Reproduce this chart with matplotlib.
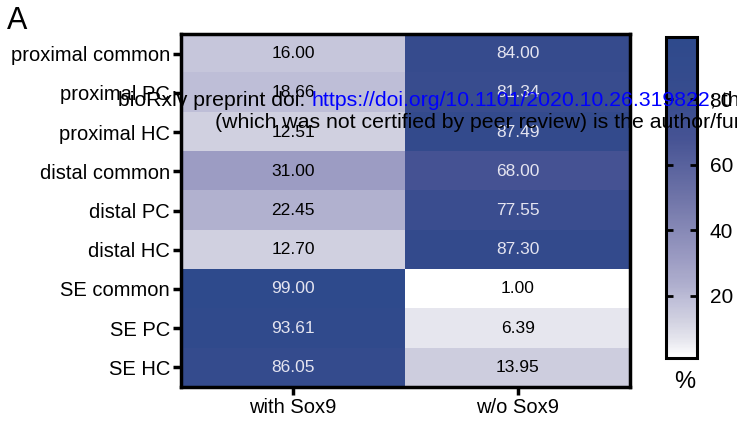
import numpy as np
import matplotlib
matplotlib.use("Agg")
import matplotlib.pyplot as plt
from matplotlib.colors import LinearSegmentedColormap

plt.rcParams['font.family'] = ['Liberation Sans', 'DejaVu Sans']

# Percent of cells with / without Sox9 per region
regions = ["proximal common", "proximal PC", "proximal HC",
           "distal common", "distal PC", "distal HC",
           "SE common", "SE PC", "SE HC"]
groups = ["with Sox9", "w/o Sox9"]
with_sox9 = [16.00, 18.66, 12.51, 31.00, 22.45, 12.70, 99.00, 93.61, 86.05]
without_sox9 = [84.00, 81.34, 87.49, 68.00, 77.55, 87.30, 1.00, 6.39, 13.95]
cbar_ticks = [20, 40, 60, 80]

data = np.column_stack([with_sox9, without_sox9])
vmin, vmax = 1, 99

# white -> lavender -> dark blue
cmap = LinearSegmentedColormap.from_list("sox9", [
    (0.000, "#ffffff"),
    (0.055, "#e6e6ee"),
    (0.120, "#d0d0e0"),
    (0.180, "#bfbfd8"),
    (0.220, "#b1b1cf"),
    (0.306, "#9c9cc3"),
    (0.500, "#6f74a8"),
    (0.684, "#465394"),
    (0.780, "#3b4e90"),
    (0.880, "#344b8d"),
    (1.000, "#2e4a8c"),
])

fig = plt.figure(figsize=(7.37, 4.25), dpi=100)
ax = fig.add_axes([0.2456, 0.0894, 0.609, 0.8306])
im = ax.imshow(data, cmap=cmap, vmin=vmin, vmax=vmax, aspect='auto',
               interpolation='nearest')

for i in range(data.shape[0]):
    for j in range(data.shape[1]):
        v = data[i, j]
        col = "#e4e4f0" if v > 50 else "black"
        ax.text(j, i, f"{v:.2f}", ha='center', va='center', fontsize=12.5, color=col)

ax.set_xticks(range(len(groups)))
ax.set_xticklabels(groups, fontsize=14.5)
ax.set_yticks(range(len(regions)))
ax.set_yticklabels(regions, fontsize=14.5)
ax.tick_params(axis='both', direction='out', length=6, width=2.5, pad=2)
for s in ax.spines.values():
    s.set_linewidth(2.5)

# colorbar
cax = fig.add_axes([0.9037, 0.1576, 0.0421, 0.7553])
cb = fig.colorbar(im, cax=cax, ticks=cbar_ticks)
cb.outline.set_linewidth(2.2)
cax.tick_params(direction='in', length=5, width=2, left=True, right=True,
                labelsize=15, pad=9)
fig.text(0.929, 0.101, "%", ha='center', va='center', fontsize=17)

fig.text(0.009, 0.985, "A", ha='left', va='top', fontsize=22)

# preprint notice printed over the panel
fs = 15.3
fig.canvas.draw()
r = fig.canvas.get_renderer()
t1 = fig.text(0.160, 0.751, "bioRxiv preprint doi: ", fontsize=fs, va='baseline')
bb = t1.get_window_extent(r).transformed(fig.transFigure.inverted())
t2 = fig.text(bb.x1, 0.751, "https://doi.org/10.1101/2020.10.26.319822",
              fontsize=fs, va='baseline', color='blue')
bb = t2.get_window_extent(r).transformed(fig.transFigure.inverted())
fig.text(bb.x1, 0.751, "; this version posted October 27, 2020.",
         fontsize=fs, va='baseline')
fig.text(0.292, 0.699, "(which was not certified by peer review) is the author/funder, "
         "who has granted bioRxiv a license", fontsize=fs, va='baseline')

fig.savefig("out.png", dpi=100)
